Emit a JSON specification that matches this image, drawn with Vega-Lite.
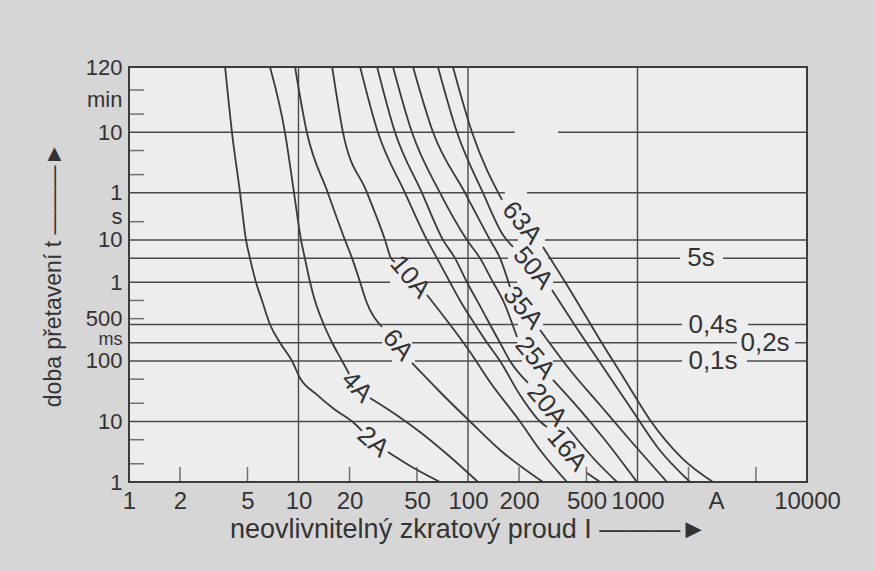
{
  "$schema": "https://vega.github.io/schema/vega-lite/v6.json",
  "width": 678,
  "height": 415,
  "autosize": {"type": "none"},
  "padding": {"left": 129, "top": 67, "right": 68, "bottom": 89},
  "background": "#d6d6d6",
  "config": {
    "font": "Liberation Sans, Arial, sans-serif",
    "view": {"fill": "#ededed", "stroke": "#3c3c3c", "strokeWidth": 2}
  },
  "datasets": {
    "curves": [
      {"s": "2A-1", "I": 3.69, "t": 7200}, {"s": "2A-1", "I": 4.05, "t": 600}, {"s": "2A-1", "I": 4.52, "t": 60}, {"s": "2A-1", "I": 4.9, "t": 10}, {"s": "2A-1", "I": 5.17, "t": 5}, {"s": "2A-1", "I": 5.61, "t": 2}, {"s": "2A-1", "I": 6.09, "t": 1}, {"s": "2A-1", "I": 6.79, "t": 0.4}, {"s": "2A-1", "I": 7.78, "t": 0.2}, {"s": "2A-1", "I": 9.16, "t": 0.1}, {"s": "2A-1", "I": 10.2, "t": 0.0524}, {"s": "2A-1", "I": 12.68, "t": 0.0285}, {"s": "2A-1", "I": 16.2, "t": 0.0161}, {"s": "2A-1", "I": 21.0, "t": 0.0097}, {"s": "2A-1", "I": 23.7, "t": 0.00697},
      {"s": "2A-2", "I": 33.7, "t": 0.00313}, {"s": "2A-2", "I": 46.7, "t": 0.00177}, {"s": "2A-2", "I": 68.4, "t": 0.001},
      {"s": "4A-1", "I": 6.79, "t": 7200}, {"s": "4A-1", "I": 8.32, "t": 600}, {"s": "4A-1", "I": 9.41, "t": 60}, {"s": "4A-1", "I": 10.35, "t": 10}, {"s": "4A-1", "I": 10.9, "t": 5}, {"s": "4A-1", "I": 11.7, "t": 2}, {"s": "4A-1", "I": 12.5, "t": 1}, {"s": "4A-1", "I": 14.1, "t": 0.4}, {"s": "4A-1", "I": 15.8, "t": 0.2}, {"s": "4A-1", "I": 18.1, "t": 0.1}, {"s": "4A-1", "I": 19.9, "t": 0.061},
      {"s": "4A-2", "I": 26.4, "t": 0.0245}, {"s": "4A-2", "I": 37.1, "t": 0.0133}, {"s": "4A-2", "I": 52.1, "t": 0.0067}, {"s": "4A-2", "I": 76.2, "t": 0.00279}, {"s": "4A-2", "I": 114.6, "t": 0.001},
      {"s": "6A-1", "I": 9.54, "t": 7200}, {"s": "6A-1", "I": 11.2, "t": 600}, {"s": "6A-1", "I": 14.9, "t": 60}, {"s": "6A-1", "I": 18.8, "t": 10}, {"s": "6A-1", "I": 20.7, "t": 5}, {"s": "6A-1", "I": 23.1, "t": 2}, {"s": "6A-1", "I": 25.0, "t": 1}, {"s": "6A-1", "I": 31.1, "t": 0.365},
      {"s": "6A-2", "I": 46.7, "t": 0.0927}, {"s": "6A-2", "I": 68.4, "t": 0.0307}, {"s": "6A-2", "I": 102.8, "t": 0.01}, {"s": "6A-2", "I": 154.5, "t": 0.00338}, {"s": "6A-2", "I": 277, "t": 0.001},
      {"s": "10A-1", "I": 15.8, "t": 7200}, {"s": "10A-1", "I": 18.3, "t": 600}, {"s": "10A-1", "I": 25.4, "t": 60}, {"s": "10A-1", "I": 32.4, "t": 10}, {"s": "10A-1", "I": 35.1, "t": 5}, {"s": "10A-1", "I": 37.1, "t": 4.33},
      {"s": "10A-2", "I": 57.3, "t": 1.233}, {"s": "10A-2", "I": 78.3, "t": 0.4}, {"s": "10A-2", "I": 102.8, "t": 0.141}, {"s": "10A-2", "I": 134.8, "t": 0.045}, {"s": "10A-2", "I": 202.7, "t": 0.01}, {"s": "10A-2", "I": 266, "t": 0.00338}, {"s": "10A-2", "I": 383.8, "t": 0.001},
      {"s": "16A-1", "I": 23.1, "t": 7200}, {"s": "16A-1", "I": 29.4, "t": 600}, {"s": "16A-1", "I": 42.5, "t": 60}, {"s": "16A-1", "I": 57.3, "t": 10}, {"s": "16A-1", "I": 65.6, "t": 5}, {"s": "16A-1", "I": 78.3, "t": 2}, {"s": "16A-1", "I": 89.7, "t": 1}, {"s": "16A-1", "I": 110, "t": 0.4}, {"s": "16A-1", "I": 129.5, "t": 0.2}, {"s": "16A-1", "I": 154.5, "t": 0.1}, {"s": "16A-1", "I": 202.7, "t": 0.0274}, {"s": "16A-1", "I": 266, "t": 0.01}, {"s": "16A-1", "I": 292.5, "t": 0.0081},
      {"s": "16A-2", "I": 503.7, "t": 0.00141}, {"s": "16A-2", "I": 601, "t": 0.001},
      {"s": "20A-1", "I": 29.1, "t": 7200}, {"s": "20A-1", "I": 37.1, "t": 600}, {"s": "20A-1", "I": 53.5, "t": 60}, {"s": "20A-1", "I": 71.2, "t": 10}, {"s": "20A-1", "I": 83.8, "t": 5}, {"s": "20A-1", "I": 98.6, "t": 2}, {"s": "20A-1", "I": 113, "t": 1}, {"s": "20A-1", "I": 134.8, "t": 0.4}, {"s": "20A-1", "I": 154.5, "t": 0.2}, {"s": "20A-1", "I": 176.9, "t": 0.1}, {"s": "20A-1", "I": 226, "t": 0.0433},
      {"s": "20A-2", "I": 383.8, "t": 0.0081}, {"s": "20A-2", "I": 561.6, "t": 0.00231}, {"s": "20A-2", "I": 757, "t": 0.001},
      {"s": "25A-1", "I": 36.1, "t": 7200}, {"s": "25A-1", "I": 46.7, "t": 600}, {"s": "25A-1", "I": 68.4, "t": 60}, {"s": "25A-1", "I": 98.6, "t": 10}, {"s": "25A-1", "I": 117.7, "t": 5}, {"s": "25A-1", "I": 140.5, "t": 2}, {"s": "25A-1", "I": 160.9, "t": 1}, {"s": "25A-1", "I": 194.6, "t": 0.249},
      {"s": "25A-2", "I": 317.3, "t": 0.0485}, {"s": "25A-2", "I": 458, "t": 0.0155}, {"s": "25A-2", "I": 643, "t": 0.00494}, {"s": "25A-2", "I": 993, "t": 0.001},
      {"s": "35A-1", "I": 47.4, "t": 7200}, {"s": "35A-1", "I": 62.2, "t": 600}, {"s": "35A-1", "I": 96, "t": 60}, {"s": "35A-1", "I": 134.8, "t": 10}, {"s": "35A-1", "I": 154.5, "t": 5}, {"s": "35A-1", "I": 176.9, "t": 1.67},
      {"s": "35A-2", "I": 266, "t": 0.325}, {"s": "35A-2", "I": 399.8, "t": 0.071}, {"s": "35A-2", "I": 601, "t": 0.01874}, {"s": "35A-2", "I": 903, "t": 0.00494}, {"s": "35A-2", "I": 1493, "t": 0.001},
      {"s": "50A-1", "I": 66.5, "t": 7200}, {"s": "50A-1", "I": 86.1, "t": 600}, {"s": "50A-1", "I": 122.6, "t": 60}, {"s": "50A-1", "I": 160.9, "t": 12.1}, {"s": "50A-1", "I": 184.3, "t": 7.66},
      {"s": "50A-2", "I": 313, "t": 1.49}, {"s": "50A-2", "I": 445.7, "t": 0.325}, {"s": "50A-2", "I": 643, "t": 0.071}, {"s": "50A-2", "I": 928.3, "t": 0.01549}, {"s": "50A-2", "I": 1321, "t": 0.00365}, {"s": "50A-2", "I": 2041, "t": 0.001},
      {"s": "63A-1", "I": 81.5, "t": 7200}, {"s": "63A-1", "I": 105.6, "t": 600}, {"s": "63A-1", "I": 158.7, "t": 45.8},
      {"s": "63A-2", "I": 277, "t": 7.66}, {"s": "63A-2", "I": 399.8, "t": 1.49}, {"s": "63A-2", "I": 601, "t": 0.2224}, {"s": "63A-2", "I": 844, "t": 0.0485}, {"s": "63A-2", "I": 1185, "t": 0.0106}, {"s": "63A-2", "I": 1830, "t": 0.00249}, {"s": "63A-2", "I": 2789, "t": 0.001}
    ],
    "labels": [
      {"f": "2A", "I": 27.5, "t": 0.00458, "g": "a"},
      {"f": "4A", "I": 22.1, "t": 0.0372, "g": "b"},
      {"f": "6A", "I": 38.6, "t": 0.184, "g": "c"},
      {"f": "10A", "I": 45.5, "t": 2.45, "g": "c"},
      {"f": "16A", "I": 383.8, "t": 0.00338, "g": "c"},
      {"f": "20A", "I": 292.5, "t": 0.01874, "g": "c"},
      {"f": "25A", "I": 248.5, "t": 0.112, "g": "c"},
      {"f": "35A", "I": 211.1, "t": 0.752, "g": "c"},
      {"f": "50A", "I": 241.8, "t": 3.44, "g": "c"},
      {"f": "63A", "I": 208.3, "t": 19.1, "g": "c"}
    ],
    "hlines": [
      {"t": 600, "I1": 1, "I2": 189}, {"t": 600, "I1": 340, "I2": 10000},
      {"t": 60, "I1": 1, "I2": 165}, {"t": 60, "I1": 223, "I2": 10000},
      {"t": 10, "I1": 1, "I2": 197}, {"t": 10, "I1": 285, "I2": 10000},
      {"t": 5, "I1": 1, "I2": 172}, {"t": 5, "I1": 297, "I2": 1782}, {"t": 5, "I1": 3195, "I2": 10000},
      {"t": 2, "I1": 1, "I2": 34.7}, {"t": 2, "I1": 57.3, "I2": 195}, {"t": 2, "I1": 317, "I2": 10000},
      {"t": 0.4, "I1": 1, "I2": 197}, {"t": 0.4, "I1": 277, "I2": 1832}, {"t": 0.4, "I1": 4488, "I2": 10000},
      {"t": 0.2, "I1": 1, "I2": 31.1}, {"t": 0.2, "I1": 46.7, "I2": 195}, {"t": 0.2, "I1": 305, "I2": 3864}, {"t": 0.2, "I1": 8493, "I2": 10000},
      {"t": 0.1, "I1": 1, "I2": 35.6}, {"t": 0.1, "I1": 48.7, "I2": 208}, {"t": 0.1, "I1": 317, "I2": 1832}, {"t": 0.1, "I1": 4426, "I2": 10000},
      {"t": 0.01, "I1": 1, "I2": 10000}
    ],
    "vlines": [{"I": 10}, {"I": 100}, {"I": 1000}],
    "yticks": [{"t": 0.002}, {"t": 0.005}, {"t": 0.02}, {"t": 0.05}, {"t": 0.5}, {"t": 1}, {"t": 20}, {"t": 120}, {"t": 300}, {"t": 1200}, {"t": 3000}],
    "xticks": [{"I": 2}, {"I": 5}, {"I": 20}, {"I": 50}, {"I": 200}, {"I": 500}, {"I": 2000}, {"I": 5000}],
    "notes": [
      {"label": "5s", "I": 2371, "t": 5},
      {"label": "0,4s", "I": 2789, "t": 0.4},
      {"label": "0,2s", "I": 5654, "t": 0.2},
      {"label": "0,1s", "I": 2789, "t": 0.1}
    ]
  },
  "layer": [
    {
      "data": {"name": "vlines"},
      "mark": {"type": "rule", "color": "#4a4a4a", "strokeWidth": 1.4},
      "encoding": {
        "x": {
          "field": "I", "type": "quantitative",
          "scale": {"type": "log", "domain": [1, 10000], "nice": false},
          "axis": {
            "orient": "bottom",
            "values": [1, 2, 5, 10, 20, 50, 100, 200, 500, 1000, 2900, 10000],
            "labelExpr": "datum.value === 2900 ? 'A' : '' + datum.value",
            "ticks": false, "tickSize": 0, "domain": false, "grid": false,
            "labelPadding": 7, "labelFontSize": 24, "labelColor": "#333333",
            "labelFlush": false, "labelOverlap": false, "labelBound": false,
            "title": "neovlivnitelný zkratový proud I  ———►",
            "titleFontSize": 27, "titleFontWeight": "normal", "titleColor": "#333333", "titlePadding": 3
          }
        }
      }
    },
    {
      "data": {"name": "hlines"},
      "mark": {"type": "rule", "color": "#4a4a4a", "strokeWidth": 1.5},
      "encoding": {
        "y": {
          "field": "t", "type": "quantitative",
          "scale": {"type": "log", "domain": [0.001, 7200], "nice": false},
          "axis": {
            "orient": "left",
            "values": [0.001, 0.01, 0.1, 0.2236, 0.5, 2, 10, 24, 60, 600, 2060, 7200],
            "labelExpr": "datum.value === 0.001 ? '1' : datum.value === 0.01 ? '10' : datum.value === 0.1 ? '100' : datum.value === 0.2236 ? 'ms' : datum.value === 0.5 ? '500' : datum.value === 2 ? '1' : datum.value === 10 ? '10' : datum.value === 24 ? 's' : datum.value === 60 ? '1' : datum.value === 600 ? '10' : datum.value === 2060 ? 'min' : '120'",
            "ticks": false, "tickSize": 0, "domain": false, "grid": false,
            "labelPadding": 7,
            "labelFontSize": {"condition": {"test": "datum.value === 0.2236", "value": 18}, "value": 22},
            "labelColor": "#333333",
            "labelFlush": false, "labelOverlap": false, "labelBound": false,
            "title": "doba přetavení t  ———►",
            "titleFontSize": 23, "titleFontWeight": "normal", "titleColor": "#333333", "titlePadding": 20
          }
        },
        "x": {"field": "I1", "type": "quantitative"},
        "x2": {"field": "I2"}
      }
    },
    {
      "data": {"name": "curves"},
      "mark": {"type": "line", "color": "#3a3a3a", "strokeWidth": 1.8, "clip": true, "interpolate": "monotone"},
      "encoding": {
        "x": {"field": "I", "type": "quantitative"},
        "y": {"field": "t", "type": "quantitative"},
        "detail": {"field": "s"}
      }
    },
    {
      "data": {"name": "yticks"},
      "mark": {"type": "tick", "orient": "horizontal", "color": "#3c3c3c", "thickness": 1.5, "clip": true},
      "encoding": {
        "y": {"field": "t", "type": "quantitative"},
        "x": {"datum": 1, "type": "quantitative"},
        "size": {"value": 30}
      }
    },
    {
      "data": {"name": "xticks"},
      "mark": {"type": "tick", "orient": "vertical", "color": "#3c3c3c", "thickness": 1.5, "clip": true},
      "encoding": {
        "x": {"field": "I", "type": "quantitative"},
        "y": {"datum": 0.001, "type": "quantitative"},
        "size": {"value": 30}
      }
    },
    {
      "data": {"name": "labels"},
      "transform": [{"filter": "datum.g === 'a'"}],
      "mark": {"type": "text", "angle": 41, "fontSize": 26, "color": "#333333", "align": "center", "baseline": "middle"},
      "encoding": {
        "x": {"field": "I", "type": "quantitative"},
        "y": {"field": "t", "type": "quantitative"},
        "text": {"field": "f"}
      }
    },
    {
      "data": {"name": "labels"},
      "transform": [{"filter": "datum.g === 'b'"}],
      "mark": {"type": "text", "angle": 46, "fontSize": 26, "color": "#333333", "align": "center", "baseline": "middle"},
      "encoding": {
        "x": {"field": "I", "type": "quantitative"},
        "y": {"field": "t", "type": "quantitative"},
        "text": {"field": "f"}
      }
    },
    {
      "data": {"name": "labels"},
      "transform": [{"filter": "datum.g === 'c'"}],
      "mark": {"type": "text", "angle": 50, "fontSize": 26, "color": "#333333", "align": "center", "baseline": "middle"},
      "encoding": {
        "x": {"field": "I", "type": "quantitative"},
        "y": {"field": "t", "type": "quantitative"},
        "text": {"field": "f"}
      }
    },
    {
      "data": {"name": "notes"},
      "mark": {"type": "text", "fontSize": 26, "color": "#333333", "align": "center", "baseline": "middle"},
      "encoding": {
        "x": {"field": "I", "type": "quantitative"},
        "y": {"field": "t", "type": "quantitative"},
        "text": {"field": "label"}
      }
    }
  ]
}
